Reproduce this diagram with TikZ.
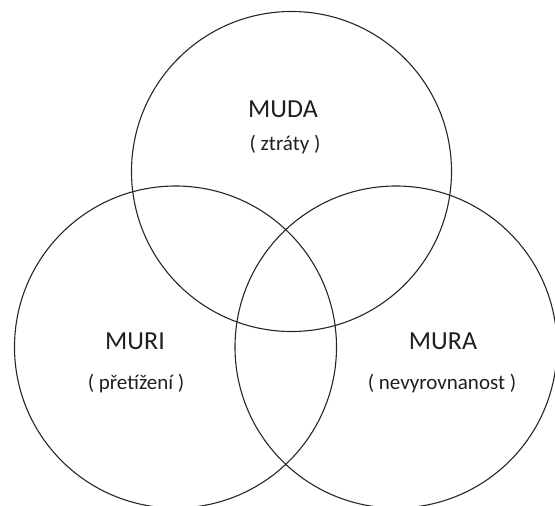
\documentclass[tikz,border=0pt]{standalone}
\usepackage{fontspec}
\setmainfont{Carlito}
\begin{document}
\begin{tikzpicture}[x=1pt,y=-1pt,
  ring/.style={circle,draw=black!85,line width=1.1pt,inner sep=0pt,minimum size=322pt},
  title/.style={font=\fontsize{26}{30}\selectfont,text=black!88,inner sep=0pt},
  sub/.style={font=\fontsize{21}{25}\selectfont,text=black!88,inner sep=0pt}]
\useasboundingbox (0,0) rectangle (555,506);
\node[ring,minimum size=320pt] (top) at (291.5,171.5) {};
\node[ring] (left) at (175.5,347) {};
\node[ring] (right) at (396,347) {};
\node[title] (muda) at (283,109) {MUDA};
\node[sub] (ztraty) at (285,145) {( ztráty )};
\node[title] (muri) at (135,341) {MURI};
\node[sub] (pret) at (136,384) {( přetížení )};
\node[title] (mura) at (443,341) {MURA};
\node[sub] (nevy) at (442,384) {( nevyrovnanost )};
\end{tikzpicture}
\end{document}
